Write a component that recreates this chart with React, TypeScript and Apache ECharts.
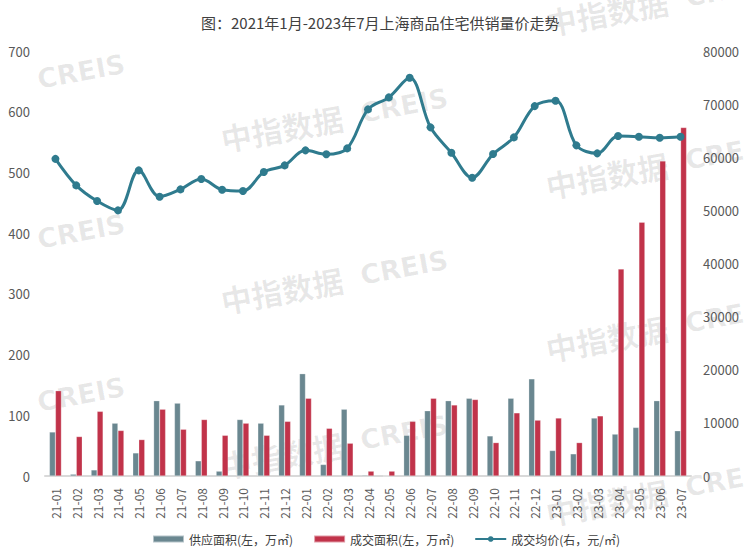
import React, { useEffect, useRef } from "react";
import * as echarts from "echarts";

const categories = [
  "21-01", "21-02", "21-03", "21-04", "21-05", "21-06", "21-07", "21-08", "21-09", "21-10", "21-11", "21-12",
  "22-01", "22-02", "22-03", "22-04", "22-05", "22-06", "22-07", "22-08", "22-09", "22-10", "22-11", "22-12",
  "23-01", "23-02", "23-03", "23-04", "23-05", "23-06", "23-07",
];

const supplyArea = [
  72.5, 3, 10, 87, 38, 124, 120, 25, 8, 93, 87, 117,
  168.5, 19, 110, 1.5, 0, 67, 107.5, 124, 128, 66, 128, 160,
  42, 36.5, 95.5, 69, 80, 124, 74.5,
];

const dealArea = [
  140.5, 65, 106.5, 75, 60, 110, 77, 93, 67, 87, 67, 90,
  128, 78.5, 54, 8, 8, 90, 128, 117, 126, 55, 104, 92,
  95.5, 55, 99, 341, 418, 519, 574,
];

const dealPrice = [
  59700, 54700, 51750, 50000, 57530, 52570, 53950, 55900, 53890, 53640, 57210, 58470,
  61300, 60550, 61670, 69010, 71270, 74960, 65630, 60850, 56140, 60600, 63740, 69630,
  70630, 62240, 60730, 64000, 63860, 63670, 63860,
];

const leftTicks = { min: 0, max: 700, interval: 100 };
const rightTicks = { min: 0, max: 80000, interval: 10000 };

const seriesNames = ["供应面积(左，万㎡)", "成交面积(左，万㎡)", "成交均价(右，元/㎡)"];
const titleText = "图：2021年1月-2023年7月上海商品住宅供销量价走势";

// watermark unit centres; "cn" = show the Chinese part too
const watermarkUnits: { x: number; y: number; cn: boolean }[] = [
  { x: 12, y: 84, cn: false },
  { x: 12, y: 244, cn: false },
  { x: 12, y: 407, cn: false },
  { x: 335, y: 118, cn: true },
  { x: 335, y: 280, cn: true },
  { x: 335, y: 445, cn: true },
  { x: 660, y: 2, cn: true },
  { x: 660, y: 165, cn: true },
  { x: 660, y: 328, cn: true },
  { x: 660, y: 492, cn: true },
];

function watermark(u: { x: number; y: number; cn: boolean }) {
  const fill = "rgba(0,0,0,0.09)";
  const children: any[] = [
    {
      type: "text",
      x: 26,
      y: 0,
      style: {
        text: "CREIS",
        align: "left",
        verticalAlign: "middle",
        fontSize: 27,
        fontWeight: "bold",
        fontFamily: "DejaVu Sans",
        fill,
      },
    },
  ];
  if (u.cn) {
    children.push({
      type: "text",
      x: 8,
      y: 0,
      style: {
        text: "中指数据",
        align: "right",
        verticalAlign: "middle",
        fontSize: 31,
        fontWeight: "bold",
        fontFamily: "Noto Sans CJK SC",
        fill,
      },
    });
  }
  return { type: "group", x: u.x, y: u.y, rotation: 0.18, silent: true, z: 0, children };
}

export default function App() {
  const ref = useRef<HTMLDivElement>(null);

  useEffect(() => {
    document.body.style.margin = "0";
    if (!ref.current) return;
    const chart = echarts.init(ref.current, undefined, { renderer: "svg" });
    const font = "Noto Sans CJK SC";
    chart.setOption({
      animation: false,
      backgroundColor: "#ffffff",
      textStyle: { fontFamily: font },
      title: {
        text: titleText,
        left: 196,
        top: 10,
        textStyle: { fontSize: 15, fontWeight: "normal", color: "#404040", fontFamily: font },
      },
      graphic: watermarkUnits.map(watermark),
      legend: {
        bottom: 6,
        left: 147,
        itemWidth: 31,
        itemHeight: 7,
        itemGap: 20,
        textStyle: { fontSize: 12, color: "#404040", fontFamily: font },
        data: [
          { name: seriesNames[0], icon: "rect" },
          { name: seriesNames[1], icon: "rect" },
          { name: seriesNames[2] },
        ],
      },
      grid: { left: 45, right: 53, top: 51, bottom: 80 },
      xAxis: {
        type: "category",
        data: categories,
        axisLine: { lineStyle: { color: "#d9d9d9", width: 2 } },
        axisTick: { show: false },
        axisLabel: { rotate: 90, interval: 0, fontSize: 12, color: "#595959", margin: 12 },
      },
      yAxis: [
        {
          type: "value",
          min: leftTicks.min,
          max: leftTicks.max,
          interval: leftTicks.interval,
          splitLine: { show: false },
          axisLine: { show: false },
          axisTick: { show: false },
          axisLabel: { fontSize: 13, color: "#595959", margin: 15 },
        },
        {
          type: "value",
          min: rightTicks.min,
          max: rightTicks.max,
          interval: rightTicks.interval,
          splitLine: { show: false },
          axisLine: { show: false },
          axisTick: { show: false },
          axisLabel: {
            fontSize: 13,
            color: "#595959",
            margin: 12,
            formatter: (v: number) => String(v),
          },
        },
      ],
      series: [
        {
          name: seriesNames[0],
          type: "bar",
          yAxisIndex: 0,
          data: supplyArea,
          barWidth: 6,
          barGap: "0%",
          itemStyle: { color: "#6a8790", borderColor: "rgba(255,255,255,0.5)", borderWidth: 0.5 },
          z: 2,
        },
        {
          name: seriesNames[1],
          type: "bar",
          yAxisIndex: 0,
          data: dealArea,
          barWidth: 6,
          barGap: "0%",
          itemStyle: { color: "#c1334a", borderColor: "rgba(255,255,255,0.5)", borderWidth: 0.5 },
          z: 2,
        },
        {
          name: seriesNames[2],
          type: "line",
          yAxisIndex: 1,
          data: dealPrice,
          smooth: 0.35,
          symbol: "circle",
          symbolSize: 8,
          lineStyle: { color: "#2f7b8e", width: 3 },
          itemStyle: { color: "#2f7b8e" },
          z: 3,
        },
      ],
    });
    return () => chart.dispose();
  }, []);

  return <div ref={ref} style={{ width: 744, height: 556 }} />;
}
